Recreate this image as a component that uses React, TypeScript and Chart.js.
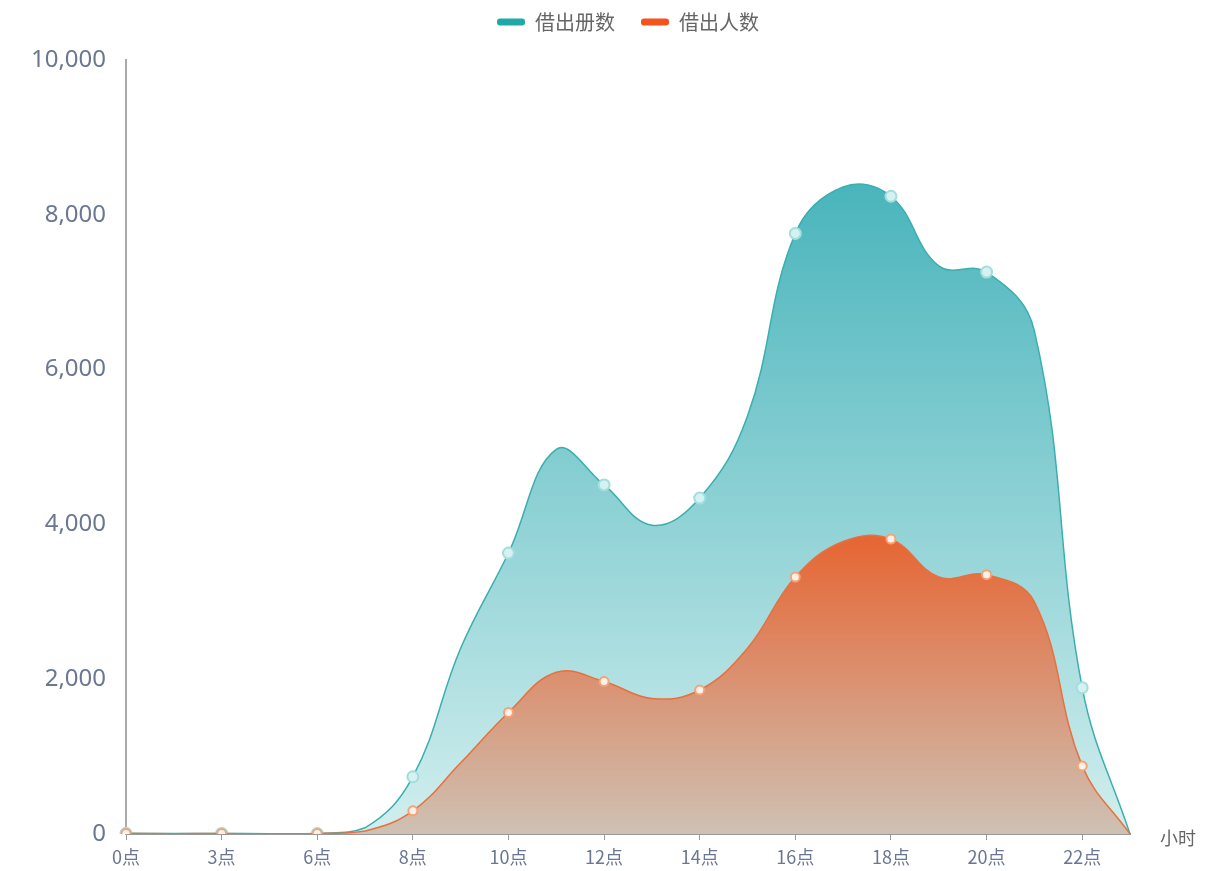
import React, { useEffect, useRef } from 'react';
import { Chart, registerables } from 'chart.js';

Chart.register(...registerables);

const hourLabels = ['0点', '1点', '3点', '4点', '6点', '7点', '8点', '9点', '10点', '11点', '12点', '13点', '14点', '15点', '16点', '17点', '18点', '19点', '20点', '21点', '22点', '23点'];
const booksBorrowed = [10, 5, 8, 3, 6, 80, 740, 2400, 3630, 4970, 4510, 3990, 4340, 5400, 7760, 8360, 8240, 7340, 7260, 6500, 1890, 0];
const peopleBorrowing = [8, 4, 6, 2, 5, 40, 300, 920, 1570, 2090, 1970, 1750, 1860, 2400, 3320, 3780, 3810, 3320, 3350, 3000, 880, 0];
const seriesNames = ['借出册数', '借出人数'];
const legendColors = ['#20a9a8', '#f4531c'];
const yMin = 0;
const yMax = 10000;
const yStep = 2000;
const xAxisName = '小时';

const FONT = "'Noto Sans CJK SC', 'Noto Sans', sans-serif";
const NUM_FONT = "'Noto Sans', 'Noto Sans CJK SC', sans-serif";
const LABEL_COLOR = '#6b7693';

const legendGap = {
  id: 'legendGap',
  beforeInit(chart: any) {
    const orig = chart.legend.fit;
    chart.legend.fit = function fit() {
      orig.call(this);
      this.height += 18;
    };
  },
};

const axisNamePlugin = {
  id: 'axisName',
  afterDraw(chart: any) {
    const { ctx, chartArea } = chart;
    ctx.save();
    ctx.font = `18px ${FONT}`;
    ctx.fillStyle = '#666';
    ctx.textBaseline = 'middle';
    ctx.textAlign = 'left';
    ctx.fillText(xAxisName, chartArea.right + 30, chartArea.bottom + 4);
    ctx.restore();
  },
};

function makeGradient(ctx: any, maxVal: number, top: string, bottom: string, fallback: string) {
  const chart = ctx.chart;
  const { chartArea, scales } = chart;
  if (!chartArea || !scales.y) return fallback;
  const y0 = scales.y.getPixelForValue(maxVal);
  const g = chart.ctx.createLinearGradient(0, y0, 0, chartArea.bottom);
  g.addColorStop(0, top);
  g.addColorStop(1, bottom);
  return g;
}

export default function App() {
  const canvasRef = useRef<HTMLCanvasElement | null>(null);

  useEffect(() => {
    document.body.style.margin = '0';
    const canvas = canvasRef.current;
    if (!canvas) return;
    const chart = new Chart(canvas, {
      type: 'line',
      data: {
        labels: hourLabels,
        datasets: [
          {
            label: seriesNames[0],
            data: booksBorrowed,
            order: 2,
            borderColor: '#3aafb0',
            borderWidth: 1.5,
            tension: 0.4,
            fill: 'origin',
            backgroundColor: (ctx: any) =>
              makeGradient(ctx, Math.max(...booksBorrowed), 'rgb(74,181,188)', 'rgb(210,238,238)', 'rgba(74,181,188,0.7)'),
            pointRadius: (ctx: any) => (ctx.dataIndex % 2 === 0 ? 5.5 : 0),
            pointBackgroundColor: '#d5f1f1',
            pointBorderColor: '#a3dede',
            pointBorderWidth: 2,
          },
          {
            label: seriesNames[1],
            data: peopleBorrowing,
            order: 1,
            borderColor: '#e8703f',
            borderWidth: 1.5,
            tension: 0.4,
            fill: 'origin',
            backgroundColor: (ctx: any) =>
              makeGradient(ctx, Math.max(...peopleBorrowing), 'rgb(230,102,52)', 'rgb(206,193,180)', 'rgba(230,102,52,0.7)'),
            pointRadius: (ctx: any) => (ctx.dataIndex % 2 === 0 ? 4.5 : 0),
            pointBackgroundColor: '#fff0e6',
            pointBorderColor: '#f3a27a',
            pointBorderWidth: 2,
          },
        ],
      },
      options: {
        animation: false,
        responsive: false,
        events: [],
        layout: { padding: { top: -14, left: 0, right: 78, bottom: 0 } },
        plugins: {
          tooltip: { enabled: false },
          legend: {
            position: 'top',
            fullSize: false,
            labels: {
              font: { family: FONT, size: 20 },
              color: '#666',
              boxWidth: 28,
              boxHeight: 7,
              padding: 26,
              useBorderRadius: true,
              borderRadius: 3,
              generateLabels: (chart: any) =>
                chart.data.datasets.map((ds: any, i: number) => ({
                  text: ds.label,
                  fillStyle: legendColors[i],
                  strokeStyle: legendColors[i],
                  lineWidth: 0,
                  hidden: false,
                  datasetIndex: i,
                  borderRadius: 3,
                  fontColor: '#666',
                })),
            },
          },
        },
        scales: {
          x: {
            type: 'category',
            offset: false,
            afterFit: (s: any) => {
              s.height = 37;
            },
            border: { display: true, color: '#999', width: 2 },
            grid: {
              display: true,
              drawOnChartArea: false,
              drawTicks: true,
              tickLength: 6,
              color: (ctx: any) => (ctx.index % 2 === 0 ? '#999' : 'rgba(0,0,0,0)'),
              tickColor: (ctx: any) => (ctx.index % 2 === 0 ? '#999' : 'rgba(0,0,0,0)'),
            },
            ticks: {
              autoSkip: false,
              maxRotation: 0,
              padding: 6,
              color: LABEL_COLOR,
              font: { family: FONT, size: 18 },
              callback: (_v: any, i: number) => (i % 2 === 0 ? hourLabels[i] : ''),
            },
          },
          y: {
            min: yMin,
            max: yMax,
            afterFit: (s: any) => {
              s.width = 126;
            },
            border: { display: true, color: '#aaa', width: 2 },
            grid: { display: false, drawTicks: false },
            ticks: {
              stepSize: yStep,
              padding: 20,
              color: LABEL_COLOR,
              font: { family: NUM_FONT, size: 24 },
            },
          },
        },
      },
      plugins: [legendGap, axisNamePlugin],
    } as any);
    return () => chart.destroy();
  }, []);

  return (
    <div style={{ position: 'fixed', left: 0, top: 0, width: 1208, height: 871, background: '#fff' }}>
      <canvas ref={canvasRef} width={1208} height={871} />
    </div>
  );
}
